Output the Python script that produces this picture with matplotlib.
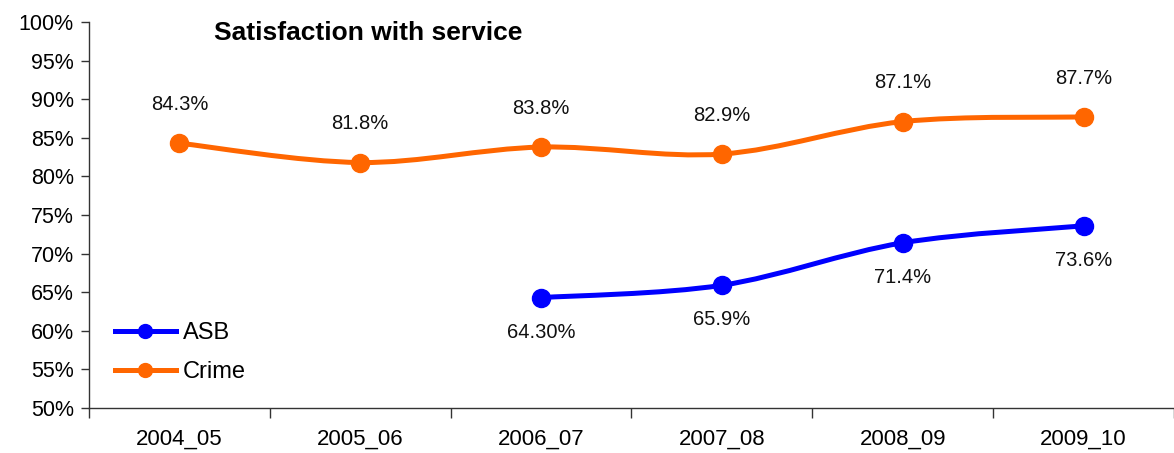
import matplotlib.pyplot as plt
from matplotlib.lines import Line2D
from matplotlib.patches import PathPatch
from matplotlib.path import Path
from matplotlib.ticker import FixedLocator, PercentFormatter

plt.rcParams['font.family'] = ['Liberation Sans', 'DejaVu Sans']

YEARS = ['2004_05', '2005_06', '2006_07', '2007_08', '2008_09', '2009_10']
CRIME = [84.3, 81.8, 83.8, 82.9, 87.1, 87.7]
CRIME_LABELS = ['84.3%', '81.8%', '83.8%', '82.9%', '87.1%', '87.7%']
ASB_YEARS = ['2006_07', '2007_08', '2008_09', '2009_10']
ASB = [64.3, 65.9, 71.4, 73.6]
ASB_LABELS = ['64.30%', '65.9%', '71.4%', '73.6%']

ORANGE = '#FF6600'
BLUE = '#0000FF'


def smooth_path(xs, ys):
    # Excel-style smoothed line: cubic bezier through each point
    pts = list(zip(xs, ys))
    n = len(pts)
    verts = [pts[0]]
    codes = [Path.MOVETO]
    for i in range(n - 1):
        p0 = pts[i - 1] if i > 0 else pts[i]
        p1 = pts[i]
        p2 = pts[i + 1]
        p3 = pts[i + 2] if i + 2 < n else pts[i + 1]
        c1 = (p1[0] + (p2[0] - p0[0]) / 6, p1[1] + (p2[1] - p0[1]) / 6)
        c2 = (p2[0] - (p3[0] - p1[0]) / 6, p2[1] - (p3[1] - p1[1]) / 6)
        verts += [c1, c2, p2]
        codes += [Path.CURVE4] * 3
    return Path(verts, codes)


def draw_series(ax, xs, ys, labels, color, offset):
    ax.add_patch(PathPatch(smooth_path(xs, ys), fill=False,
                           edgecolor=color, lw=3.6, capstyle='round',
                           joinstyle='round', zorder=3))
    ax.plot(xs, ys, 'o', color=color, ms=13, zorder=4)
    for x, y, lab in zip(xs, ys, labels):
        ax.annotate(lab, (x, y), xytext=(0, offset), textcoords='offset points',
                    ha='center', va='center', fontsize=14.5, color='#111111')


fig = plt.figure(figsize=(11.74, 4.53), dpi=100)
ax = fig.add_axes([0.0758, 0.0993, 0.9242, 0.8521])

x_crime = [YEARS.index(y) for y in YEARS]
x_asb = [YEARS.index(y) for y in ASB_YEARS]

draw_series(ax, x_crime, CRIME, CRIME_LABELS, ORANGE, 28)
draw_series(ax, x_asb, ASB, ASB_LABELS, BLUE, -25)

ax.set_xlim(-0.5, len(YEARS) - 0.5)
ax.set_ylim(50, 100)
ax.set_yticks(range(50, 101, 5))
ax.yaxis.set_major_formatter(PercentFormatter(decimals=0))
ax.tick_params(axis='y', labelsize=15.5, length=6, width=1, pad=5,
               color='#333333')

ax.xaxis.set_major_locator(FixedLocator([i - 0.5 for i in range(len(YEARS) + 1)]))
ax.xaxis.set_minor_locator(FixedLocator(range(len(YEARS))))
ax.set_xticklabels([], minor=False)
ax.set_xticklabels(YEARS, minor=True)
ax.tick_params(axis='x', which='major', length=7, width=1, color='#333333')
ax.tick_params(axis='x', which='minor', length=0, pad=15, labelsize=16)

for side in ['top', 'right']:
    ax.spines[side].set_visible(False)
for side in ['left', 'bottom']:
    ax.spines[side].set_color('#333333')
    ax.spines[side].set_linewidth(1)

ax.text(0.257, 0.972, 'Satisfaction with service', transform=ax.transAxes,
        ha='center', va='center', fontsize=19, fontweight='bold')

handles = [
    Line2D([], [], color=BLUE, lw=3.6, marker='o', ms=10),
    Line2D([], [], color=ORANGE, lw=3.6, marker='o', ms=10),
]
ax.legend(handles, ['ASB', 'Crime'], loc='lower left',
          bbox_to_anchor=(0.004, 0.01), frameon=False, fontsize=17,
          handlelength=2.6, handletextpad=0.3, labelspacing=0.7)

fig.savefig('out.png', dpi=100)
